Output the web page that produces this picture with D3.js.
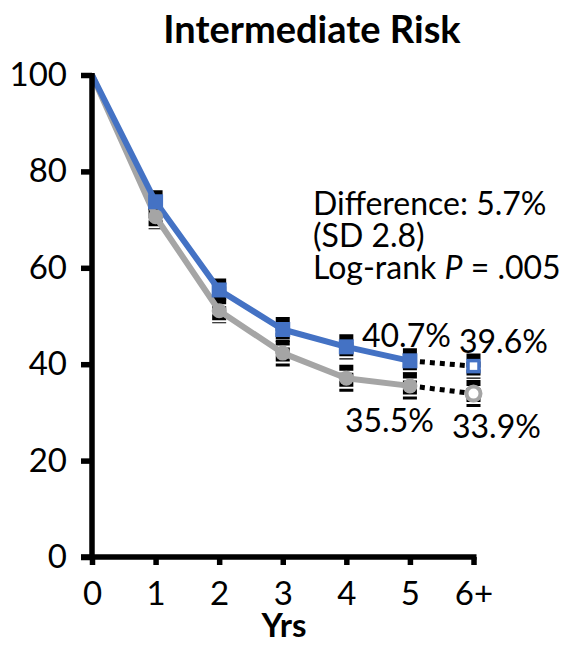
<!DOCTYPE html>
<html>
<head>
<meta charset="utf-8">
<script src="https://cdn.jsdelivr.net/npm/d3@7"></script>
<style>
  html, body { margin: 0; padding: 0; background: #fff; }
  svg { display: block; }
  text { font-family: Lato, "Open Sans", sans-serif; fill: #000; }
</style>
</head>
<body>
<div id="chart"></div>
<script>
// ---- Data ----
const title = "Intermediate Risk";
const xLabel = "Yrs";
const years = ["0", "1", "2", "3", "4", "5", "6+"];
const blueVals = [100, 73.7, 55.4, 47.2, 43.6, 40.7, 39.6];
const grayVals = [100, 70.6, 51.1, 42.3, 37.1, 35.5, 33.9];
const blueErr = [0, 2.4, 2.4, 2.6, 2.6, 2.6, 2.6];
const grayErr = [0, 2.6, 2.6, 2.8, 2.8, 2.8, 2.8];
const yTicks = [0, 20, 40, 60, 80, 100];
const pointLabels = [
  { idx: 5, series: "blue", text: "40.7%" },
  { idx: 6, series: "blue", text: "39.6%" },
  { idx: 5, series: "gray", text: "35.5%" },
  { idx: 6, series: "gray", text: "33.9%" }
];
const annotationLines = ["Difference: 5.7%", "(SD 2.8)", "Log-rank |P| = .005"];

// ---- Layout ----
const W = 574, H = 645;
const BLUE = "#4472C4", GRAY = "#A5A5A5";
const svg = d3.select("#chart").append("svg").attr("width", W).attr("height", H);

const x = d3.scalePoint().domain(years).range([92, 473.5]);
const y = d3.scaleLinear().domain([0, 100]).range([557, 75]);

// Title
svg.append("text").attr("x", 312).attr("y", 43).attr("text-anchor", "middle")
  .attr("font-size", 38).attr("font-weight", 700).text(title);

// Error bars (drawn first)
function errBars(vals, errs) {
  svg.append("g").selectAll("line").data(years.map((d, i) => i).filter(i => errs[i] > 0))
    .join("line")
    .attr("x1", i => x(years[i])).attr("x2", i => x(years[i]))
    .attr("y1", i => y(vals[i] + errs[i])).attr("y2", i => y(vals[i] - errs[i]))
    .attr("stroke", "#000").attr("stroke-width", 14).attr("stroke-dasharray", "6,2");
}
errBars(blueVals, blueErr);
errBars(grayVals, grayErr);

// Lines
const solidIdx = [0, 1, 2, 3, 4, 5];
const line = d3.line().x(d => x(years[d.i])).y(d => y(d.v));
function series(vals, color) {
  svg.append("path")
    .datum(solidIdx.map(i => ({ i, v: vals[i] })))
    .attr("d", line).attr("fill", "none").attr("stroke", color)
    .attr("stroke-width", 6).attr("stroke-linejoin", "round");
  svg.append("path")
    .datum([5, 6].map(i => ({ i, v: vals[i] })))
    .attr("d", line).attr("fill", "none").attr("stroke", "#000")
    .attr("stroke-width", 5).attr("stroke-dasharray", "5,5");
}
series(grayVals, GRAY);
series(blueVals, BLUE);

// Markers
const mIdx = [1, 2, 3, 4, 5];
svg.append("g").selectAll("circle").data(mIdx).join("circle")
  .attr("cx", i => x(years[i])).attr("cy", i => y(grayVals[i])).attr("r", 7.5)
  .attr("fill", GRAY);
svg.append("circle").attr("cx", x(years[6])).attr("cy", y(grayVals[6])).attr("r", 7)
  .attr("fill", "#fff").attr("stroke", GRAY).attr("stroke-width", 4);
svg.append("g").selectAll("rect").data(mIdx).join("rect")
  .attr("x", i => x(years[i]) - 7.5).attr("y", i => y(blueVals[i]) - 7.5)
  .attr("width", 15).attr("height", 15).attr("fill", BLUE);
svg.append("rect").attr("x", x(years[6]) - 5.5).attr("y", y(blueVals[6]) - 5.5)
  .attr("width", 11).attr("height", 11)
  .attr("fill", "#fff").attr("stroke", BLUE).attr("stroke-width", 3.5);

// Axes
const yAxis = d3.axisLeft(y).tickValues(yTicks).tickSize(11).tickPadding(14);
const gy = svg.append("g").attr("transform", `translate(${x(years[0])},0)`).call(yAxis);
const xAxis = d3.axisBottom(x).tickSize(8).tickPadding(17);
const gx = svg.append("g").attr("transform", `translate(0,${y(0)})`).call(xAxis);
[gy, gx].forEach(g => {
  g.select(".domain").attr("stroke", "#000").attr("stroke-width", 5.5);
  g.selectAll(".tick line").attr("stroke", "#000").attr("stroke-width", 5.5);
  g.selectAll(".tick text").attr("font-size", 33).attr("font-family", "Lato, sans-serif").attr("fill", "#000");
});
gy.select(".domain").attr("d", `M0,${y(100) - 2}V${y(0) + 3}`);
gx.select(".domain").attr("d", `M${x(years[0]) - 11},0H${x(years[6]) + 3}`);
gx.selectAll(".tick text").attr("dy", "0.71em");

// X label
svg.append("text").attr("x", 284).attr("y", 637).attr("text-anchor", "middle")
  .attr("font-size", 33).attr("font-weight", 700).text(xLabel);

// Point labels
const labelPos = {
  "5blue": [362, 347], "6blue": [459, 353], "5gray": [345, 432], "6gray": [452, 438]
};
pointLabels.forEach(p => {
  const pos = labelPos[p.idx + p.series];
  svg.append("text").attr("x", pos[0]).attr("y", pos[1]).attr("font-size", 32).text(p.text);
});

// Annotation
const ann = svg.append("text").attr("font-size", 32);
annotationLines.forEach((l, k) => {
  const t = ann.append("tspan").attr("x", 313).attr("y", 215 + k * 32);
  const parts = l.split("|");
  parts.forEach((s, j) => {
    const ts = t.append("tspan").text(s);
    if (j % 2 === 1) ts.attr("font-style", "italic");
  });
});
</script>
</body>
</html>
